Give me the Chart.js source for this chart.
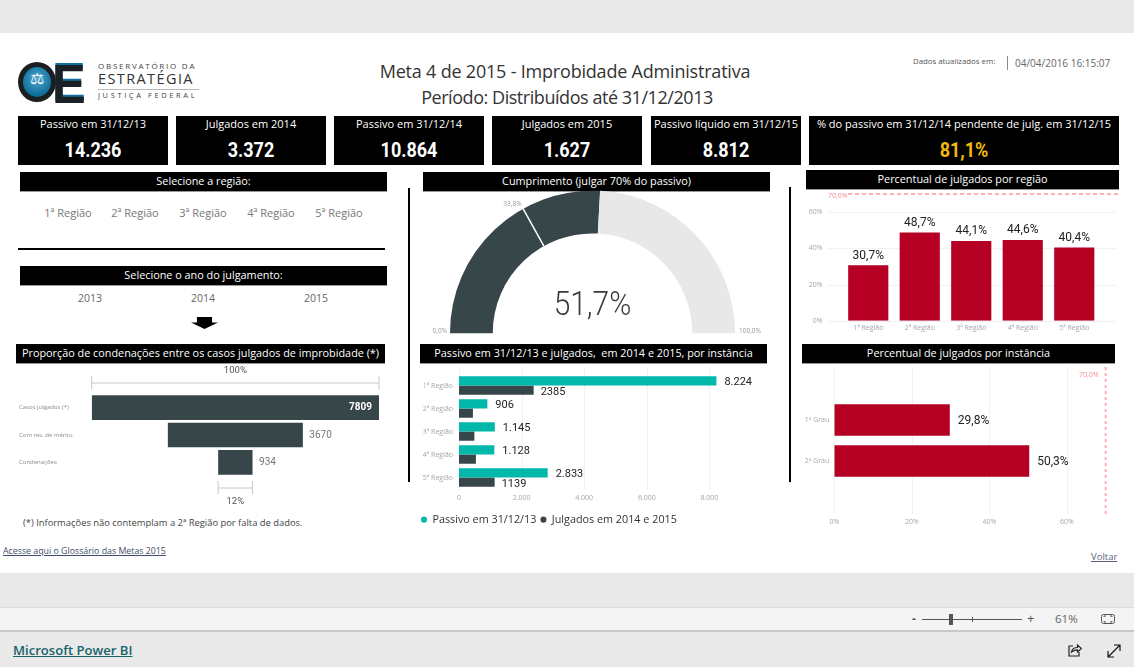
<!DOCTYPE html>
<html lang="pt-BR">
<head>
<meta charset="utf-8">
<title>Meta 4 de 2015 - Improbidade Administrativa</title>
<script src="https://cdn.jsdelivr.net/npm/chart.js@4"></script>
<style>
html, body { margin: 0; padding: 0; }
body { width: 1134px; height: 667px; background: #e9e9e9; overflow: hidden; position: relative; font-family: "Open Sans", sans-serif; }
#folha { position: absolute; left: 0; top: 33px; width: 1134px; height: 540px; background: #fff; }
canvas { position: absolute; }
.t { position: absolute; white-space: nowrap; line-height: 1; }
.c { transform: translateX(-50%); }
.barra { position: absolute; background: #000; color: #fff; text-align: center; font-size: 10.85px; line-height: 18px; height: 18.5px; white-space: nowrap; box-shadow: 0 1px 0 #999; }
.card { position: absolute; top: 116px; height: 49px; background: #000; color: #fff; text-align: center; }
.card .rot { position: absolute; left: 0; right: 0; top: 1px; font-size: 11px; line-height: 14px; white-space: nowrap; }
.card .val { position: absolute; left: 0; right: 0; top: 22px; font-family: Roboto, sans-serif; font-weight: 700; font-size: 20px; line-height: 24px; transform: scaleX(.9); }
.linha { position: absolute; background: #000; }
.slicer { color: #777; font-size: 11px; top: 207px; }
.ano { color: #666; font-size: 10.5px; top: 293px; }
a { color: inherit; }
</style>
</head>
<body>
<div id="folha"></div>

<!-- logo -->
<div style="position:absolute;left:18px;top:62px;width:28px;height:30px;border:5px solid #1c1f22;border-radius:50%;background:radial-gradient(circle at 50% 40%,#4fa8cf,#0d6f9c 70%,#0b4f73);z-index:2"></div>
<div class="t" style="left:30px;top:71px;color:#fff;font-size:16px;font-family:'DejaVu Sans';z-index:3">&#9878;</div>
<div class="t" style="left:52px;top:57px;font-family:'Liberation Sans';font-weight:700;font-size:55px;color:#1b2024;transform:scaleX(.92);transform-origin:left;text-shadow:0 -2px 0 #0f6f9e">E</div>
<div class="t" style="left:98px;top:62px;font-size:8px;letter-spacing:1.75px;color:#444">OBSERVATÓRIO DA</div>
<div class="t" style="left:98px;top:72px;font-size:14.5px;letter-spacing:1.4px;color:#333">ESTRATÉGIA</div>
<div style="position:absolute;left:98px;top:89px;width:101px;height:1px;background:#bbb"></div>
<div class="t" style="left:98px;top:92px;font-size:7.5px;letter-spacing:2.6px;color:#444">JUSTIÇA FEDERAL</div>

<div class="t c" style="left:565px;top:62px;font-size:18px;letter-spacing:-.2px;color:#333">Meta 4 de 2015 - Improbidade Administrativa</div>
<div class="t c" style="left:567px;top:88px;font-size:18px;letter-spacing:-.45px;color:#333">Período: Distribuídos até 31/12/2013</div>
<div class="t" style="left:913px;top:58px;font-size:7.8px;color:#555">Dados atualizados em:</div>
<div style="position:absolute;left:1007px;top:56px;width:1px;height:14px;background:#888"></div>
<div class="t" style="left:1015px;top:58px;font-size:10px;color:#666">04/04/2016 16:15:07</div>

<div id="cards"></div>
<div id="slicers"></div>

<div class="barra" style="left:20px;top:172px;width:367px">Selecione a região:</div>
<div class="barra" style="left:20px;top:266px;width:367px">Selecione o ano do julgamento:</div>
<div class="barra" style="left:16px;top:344px;width:369px">Proporção de condenações entre os casos julgados de improbidade (*)</div>
<div class="barra" style="left:423px;top:172px;width:347px">Cumprimento (julgar 70% do passivo)</div>
<div class="barra" style="left:806px;top:170px;width:313px">Percentual de julgados por região</div>
<div class="barra" style="left:420px;top:344px;width:347px">Passivo em 31/12/13 e julgados,&nbsp; em 2014 e 2015, por instância</div>
<div class="barra" style="left:802px;top:344px;width:313px">Percentual de julgados por instância</div>

<div class="linha" style="left:18px;top:248px;width:367px;height:2px"></div>
<div class="linha" style="left:408px;top:188px;width:2px;height:294px"></div>
<div class="linha" style="left:789px;top:187px;width:2px;height:295px"></div>
<div style="position:absolute;left:191px;top:317px;width:27px;height:12px;background:#000;clip-path:polygon(22% 0,78% 0,78% 45%,100% 45%,50% 100%,0 45%,22% 45%)"></div>

<canvas id="funil" width="400" height="145" style="left:0;top:364px"></canvas>
<canvas id="medidor" width="385" height="160" style="left:400px;top:180px"></canvas>
<canvas id="regiao" width="330" height="150" style="left:795px;top:188px"></canvas>
<canvas id="passivo" width="353" height="171" style="left:417px;top:364px"></canvas>
<canvas id="instancia" width="330" height="165" style="left:795px;top:364px"></canvas>

<div class="t" style="left:23px;top:518px;font-size:9.4px;color:#444">(*) Informações não contemplam a 2ª Região por falta de dados.</div>
<a class="t" href="#" style="left:3px;top:547px;font-size:8.8px;color:#3f4d6b">Acesse aqui o Glossário das Metas 2015</a>
<a class="t" href="#" style="left:1091px;top:552px;font-size:9.5px;color:#56607f">Voltar</a>

<!-- rodape do Power BI -->
<div style="position:absolute;left:0;top:607px;width:1134px;height:22px;background:#f4f4f4;border-top:1px solid #dcdcdc;border-bottom:2px solid #c8c8c8"></div>
<div class="t" style="left:912px;top:613px;font-size:12px;color:#555;font-weight:700">-</div>
<div style="position:absolute;left:922px;top:619px;width:100px;height:1px;background:#555"></div>
<div style="position:absolute;left:949px;top:614px;width:4px;height:11px;background:#555"></div>
<div style="position:absolute;left:972px;top:617px;width:1px;height:5px;background:#555"></div>
<div class="t" style="left:1027px;top:612px;font-size:13px;color:#555">+</div>
<div class="t" style="left:1055px;top:613px;font-size:11.5px;color:#666">61%</div>
<svg style="position:absolute;left:1100px;top:613px" width="16" height="13" fill="none" stroke="#555" stroke-width="1"><rect x="1.5" y="1.5" width="13" height="9" rx="2"/><path d="M4 4v-1h2M12 4v-1h-2M4 8v1h2M12 8v1h-2"/></svg>
<a class="t" href="#" style="left:13px;top:644px;font-size:13.1px;color:#17646b;font-weight:600">Microsoft Power BI</a>
<svg style="position:absolute;left:1067px;top:643px" width="15" height="14" fill="none" stroke="#222" stroke-width="1.2"><path d="M6 3H2v10h10V9"/><path d="M4.5 9c.5-3 3-4.500 6-4.500V2l4 3.500-4 3.500V6.800c-2 0-4 .7-6 2.200z"/></svg>
<svg style="position:absolute;left:1107px;top:644px" width="14" height="14" fill="none" stroke="#111" stroke-width="1.2"><path d="M1 13L13 1M7 1h6v6M1 7v6h6"/></svg>

<script>
const cardRotulos = ['Passivo em 31/12/13', 'Julgados em 2014', 'Passivo em 31/12/14', 'Julgados em 2015', 'Passivo líquido em 31/12/15', '% do passivo em 31/12/14 pendente de julg. em 31/12/15'];
const cardValores = ['14.236', '3.372', '10.864', '1.627', '8.812', '81,1%'];
const anos = ['2013', '2014', '2015'];

const regioes = ['1ª Região', '2ª Região', '3ª Região', '4ª Região', '5ª Região'];
const pctRegiao = [30.7, 48.7, 44.1, 44.6, 40.4];
const pctTicks = [0, 20, 40, 60];
const meta = 70;

const instancias = ['1º Grau', '2º Grau'];
const pctInstancia = [29.8, 50.3];

const passivo = [8224, 906, 1145, 1128, 2833];
const julgados = [2385, 445, 490, 540, 1139];
const julgadosRotulos = ['2385', '', '', '', '1139'];
const passivoTicks = [0, 2000, 4000, 6000, 8000];

const funilEtapas = ['Casos julgados (*)', 'Com res. de mérito', 'Condenações'];
const funilValores = [7809, 3670, 934];

const cumprimento = [51.7, 48.3];
const medidorMarca = 33.8;
const medidorEscala = ['0,0%', '100,0%'];

const VERMELHO = '#b50024', TEAL = '#01b8aa', ESCURO = '#374649', ROSA = '#ffaeb4', GRADE = '#f1f1f1', CINZA = '#a6a6a6';
const NUM_FONT = 'Roboto, sans-serif', TXT_FONT = '"Open Sans", sans-serif';

Chart.defaults.animation = false;
Chart.defaults.responsive = false;
Chart.defaults.plugins.legend.display = false;
Chart.defaults.plugins.tooltip.enabled = false;
Chart.defaults.font.family = TXT_FONT;

const pct = v => v.toFixed(1).replace('.', ',') + '%';
const milhar = v => String(v).replace(/\B(?=(\d{3})+$)/g, '.');

// cards e segmentadores
const cardX = [[18, 150], [176, 150], [334, 150], [492, 150], [651, 150], [809, 310]];
document.getElementById('cards').innerHTML = cardRotulos.map((r, i) =>
    `<div class="card" style="left:${cardX[i][0]}px;width:${cardX[i][1]}px"><div class="rot">${r}</div>` +
    `<div class="val"${i === 5 ? ' style="color:#f2b90f"' : ''}>${cardValores[i]}</div></div>`).join('');
const slicerX = [68, 135, 203, 271, 339], anoX = [90, 203, 316];
document.getElementById('slicers').innerHTML =
    regioes.map((r, i) => `<div class="t c slicer" style="left:${slicerX[i]}px">${r}</div>`).join('') +
    anos.map((a, i) => `<div class="t c ano" style="left:${anoX[i]}px">${a}</div>`).join('');

const semGrade = { display: false, drawTicks: false };
// tamanho fixo do eixo e sem o padding automatico que empurra a area do grafico
function zerarPadding(s) { s.paddingTop = s.paddingBottom = s.paddingLeft = s.paddingRight = 0; }
function larguraFixa(w) { return s => { s.width = w; zerarPadding(s); }; }
function alturaFixa(h) { return s => { s.height = h; zerarPadding(s); }; }
function texto(ctx, str, x, y, font, cor, align) {
    ctx.font = font;
    ctx.fillStyle = cor;
    ctx.textAlign = align || 'left';
    ctx.textBaseline = 'middle';
    ctx.fillText(str, x, y);
}
function fixarTicks(lista) { return s => { s.ticks = lista.map(v => ({ value: v })); }; }

// --- Percentual por regiao ---
new Chart(document.getElementById('regiao'), {
    type: 'bar',
    data: { labels: regioes, datasets: [{ data: pctRegiao, backgroundColor: VERMELHO }] },
    options: {
        layout: { padding: { top: 6, right: 25 } },
        datasets: { bar: { barPercentage: 0.78, categoryPercentage: 1 } },
        scales: {
            x: { grid: semGrade, border: { display: false }, afterFit: alturaFixa(17.3),
                ticks: { color: CINZA, font: { size: 7 }, padding: 3, maxRotation: 0 } },
            y: { min: 0, max: meta, grid: semGrade, border: { display: false }, afterFit: larguraFixa(47.5), afterBuildTicks: fixarTicks(pctTicks),
                ticks: { color: CINZA, font: { size: 7 }, padding: 20, callback: v => v + '%' } }
        }
    },
    plugins: [{
        id: 'guiasRegiao',
        beforeDatasetsDraw(chart) {
            const ctx = chart.ctx, y = chart.scales.y;
            ctx.save();
            ctx.strokeStyle = GRADE;
            pctTicks.forEach(v => {
                ctx.beginPath();
                ctx.moveTo(33, Math.round(y.getPixelForValue(v)) + 0.5);
                ctx.lineTo(321, Math.round(y.getPixelForValue(v)) + 0.5);
                ctx.stroke();
            });
            ctx.restore();
        },
        afterDatasetsDraw(chart) {
            const ctx = chart.ctx, y = chart.scales.y, ym = y.getPixelForValue(meta);
            ctx.save();
            ctx.strokeStyle = ROSA;
            ctx.lineWidth = 2;
            ctx.setLineDash([4, 3]);
            ctx.beginPath();
            ctx.moveTo(53, ym);
            ctx.lineTo(324, ym);
            ctx.stroke();
            texto(ctx, pct(meta), 33, ym + 2, '7px ' + TXT_FONT, '#f98a92');
            chart.getDatasetMeta(0).data.forEach((b, i) => {
                texto(ctx, pct(pctRegiao[i]), b.x, b.y - 9.5, '12px ' + NUM_FONT, '#222', 'center');
            });
            ctx.restore();
        }
    }]
});

// --- Passivo e julgados por regiao ---
new Chart(document.getElementById('passivo'), {
    type: 'bar',
    data: {
        labels: regioes,
        datasets: [
            { label: 'Passivo em 31/12/13', data: passivo, backgroundColor: TEAL },
            { label: 'Julgados em 2014 e 2015', data: julgados, backgroundColor: ESCURO }
        ]
    },
    options: {
        indexAxis: 'y',
        layout: { padding: { top: 10, right: 29.3 } },
        datasets: { bar: { barPercentage: 1, categoryPercentage: 0.8 } },
        scales: {
            x: { min: 0, max: 9000, grid: semGrade, border: { display: false }, afterFit: alturaFixa(21.2), afterBuildTicks: fixarTicks(passivoTicks),
                ticks: { color: CINZA, font: { size: 7 }, padding: 4.5, maxRotation: 0, callback: v => milhar(v) } },
            y: { grid: semGrade, border: { display: false }, afterFit: larguraFixa(42),
                ticks: { color: CINZA, font: { size: 7 }, padding: 6, autoSkip: false } }
        },
        plugins: {
            legend: {
                display: true, position: 'bottom', align: 'start',
                labels: { usePointStyle: true, pointStyle: 'circle', boxWidth: 4.5, boxHeight: 4.5, pointStyleWidth: 6, padding: 4, color: '#333', font: { size: 10.8 } }
            }
        }
    },
    plugins: [{
        id: 'guiasPassivo',
        beforeDatasetsDraw(chart) {
            const ctx = chart.ctx, x = chart.scales.x;
            ctx.save();
            ctx.strokeStyle = GRADE;
            passivoTicks.forEach(v => {
                ctx.beginPath();
                ctx.moveTo(Math.round(x.getPixelForValue(v)) + 0.5, 3);
                ctx.lineTo(Math.round(x.getPixelForValue(v)) + 0.5, 126);
                ctx.stroke();
            });
            ctx.restore();
        },
        afterDatasetsDraw(chart) {
            const ctx = chart.ctx, f = '11px ' + NUM_FONT;
            chart.getDatasetMeta(0).data.forEach((b, i) => texto(ctx, milhar(passivo[i]), b.x + 8, b.y + 1.7, f, '#222'));
            chart.getDatasetMeta(1).data.forEach((b, i) => texto(ctx, julgadosRotulos[i], b.x + 7, b.y + 1.7, f, '#222'));
        }
    }]
});

// --- Percentual por instancia ---
new Chart(document.getElementById('instancia'), {
    type: 'bar',
    data: { labels: instancias, datasets: [{ data: pctInstancia, backgroundColor: VERMELHO }] },
    options: {
        indexAxis: 'y',
        layout: { padding: { top: 35.5, right: 19.4 } },
        datasets: { bar: { barPercentage: 0.766, categoryPercentage: 1 } },
        scales: {
            x: { min: 0, max: meta, grid: semGrade, border: { display: false }, afterFit: alturaFixa(47.5), afterBuildTicks: fixarTicks(pctTicks),
                ticks: { color: CINZA, font: { size: 7 }, padding: 36.5, maxRotation: 0, callback: v => v + '%' } },
            y: { grid: semGrade, border: { display: false }, afterFit: larguraFixa(39.3),
                ticks: { color: CINZA, font: { size: 7 }, padding: 5 } }
        }
    },
    plugins: [{
        id: 'guiasInstancia',
        beforeDatasetsDraw(chart) {
            const ctx = chart.ctx, x = chart.scales.x;
            ctx.save();
            ctx.strokeStyle = GRADE;
            pctTicks.forEach(v => {
                ctx.beginPath();
                ctx.moveTo(Math.round(x.getPixelForValue(v)) + 0.5, 3);
                ctx.lineTo(Math.round(x.getPixelForValue(v)) + 0.5, 150);
                ctx.stroke();
            });
            ctx.restore();
        },
        afterDatasetsDraw(chart) {
            const ctx = chart.ctx, xm = chart.scales.x.getPixelForValue(meta);
            ctx.save();
            ctx.strokeStyle = ROSA;
            ctx.lineWidth = 2;
            ctx.setLineDash([3, 3]);
            ctx.beginPath();
            ctx.moveTo(xm, 3);
            ctx.lineTo(xm, 150);
            ctx.stroke();
            texto(ctx, pct(meta), xm - 7, 11, '7px ' + TXT_FONT, '#f98a92', 'right');
            chart.getDatasetMeta(0).data.forEach((b, i) => {
                texto(ctx, pct(pctInstancia[i]), b.x + 8, b.y + 1, '12px ' + NUM_FONT, '#222');
            });
            ctx.restore();
        }
    }]
});

// --- Funil de condenacoes ---
const funilMax = funilValores[0];
new Chart(document.getElementById('funil'), {
    type: 'bar',
    data: { labels: funilEtapas, datasets: [{ data: funilValores.map(v => [-v / 2, v / 2]), backgroundColor: ESCURO }] },
    options: {
        indexAxis: 'y',
        layout: { padding: { top: 30, bottom: 33, left: 19, right: 21 } },
        datasets: { bar: { barPercentage: 0.9, categoryPercentage: 1 } },
        scales: {
            x: { display: false, min: -funilMax / 2, max: funilMax / 2 },
            y: { grid: semGrade, border: { display: false }, afterFit: larguraFixa(72.7),
                ticks: { color: '#8a8a8a', font: { size: 6 }, crossAlign: 'far', autoSkip: false } }
        }
    },
    plugins: [{
        id: 'rotulosFunil',
        afterDatasetsDraw(chart) {
            const ctx = chart.ctx, x = chart.scales.x, barras = chart.getDatasetMeta(0).data;
            const f = '10px ' + NUM_FONT;
            texto(ctx, String(funilValores[0]), x.getPixelForValue(funilValores[0] / 2) - 7, barras[0].y, 'bold ' + f, '#fff', 'right');
            for (let i = 1; i < 3; i++) {
                texto(ctx, String(funilValores[i]), x.getPixelForValue(funilValores[i] / 2) + 6.5, barras[i].y, f, '#777');
            }
            // chaves de 100% e 12%
            const chave = (v, y, h) => {
                const a = x.getPixelForValue(-v / 2), b = x.getPixelForValue(v / 2);
                ctx.strokeStyle = '#c8c8c8';
                ctx.beginPath();
                ctx.moveTo(a, y + 0.5); ctx.lineTo(b, y + 0.5);
                ctx.moveTo(a, y - h); ctx.lineTo(a, y + h);
                ctx.moveTo(b, y - h); ctx.lineTo(b, y + h);
                ctx.stroke();
            };
            chave(funilValores[0], 18.5, 7);
            chave(funilValores[2], 123.5, 6.5);
            const meio = x.getPixelForValue(0);
            texto(ctx, '100%', meio, 7, '9.500px ' + NUM_FONT, '#555', 'center');
            texto(ctx, Math.round(funilValores[2] / funilValores[0] * 100) + '%', meio, 138, '9.500px ' + NUM_FONT, '#555', 'center');
        }
    }]
});

// --- Medidor de cumprimento ---
new Chart(document.getElementById('medidor'), {
    type: 'doughnut',
    data: { datasets: [{ data: cumprimento, backgroundColor: [ESCURO, '#e8e8e8'], borderWidth: 0 }] },
    options: {
        rotation: -90,
        circumference: 180,
        cutout: '70%',
        layout: { padding: { left: 50, right: 50, top: 10.5, bottom: 6.7 } }
    },
    plugins: [{
        id: 'marcasMedidor',
        afterDatasetsDraw(chart) {
            const ctx = chart.ctx, arco = chart.getDatasetMeta(0).data[0];
            const ang = Math.PI * (1 + medidorMarca / 100);
            const cx = arco.x, cy = arco.y, ri = arco.innerRadius, ro = arco.outerRadius;
            ctx.save();
            ctx.strokeStyle = '#fff';
            ctx.lineWidth = 1.5;
            ctx.beginPath();
            ctx.moveTo(cx + ri * Math.cos(ang), cy + ri * Math.sin(ang));
            ctx.lineTo(cx + ro * Math.cos(ang), cy + ro * Math.sin(ang));
            ctx.stroke();
            const f = '6.500px ' + TXT_FONT;
            texto(ctx, pct(medidorMarca), cx + ro * Math.cos(ang) - 1.5, cy + ro * Math.sin(ang) - 5, f, '#999', 'right');
            texto(ctx, medidorEscala[0], cx - ro - 3, cy - 2.5, f, '#999', 'right');
            texto(ctx, medidorEscala[1], cx + ro + 4, cy - 2.5, f, '#999');
            ctx.translate(cx, cy - 27);
            ctx.scale(0.88, 1);
            texto(ctx, pct(cumprimento[0]), 0, 0, '300 34px ' + NUM_FONT, '#3b3b3b', 'center');
            ctx.restore();
        }
    }]
});
</script>
</body>
</html>
